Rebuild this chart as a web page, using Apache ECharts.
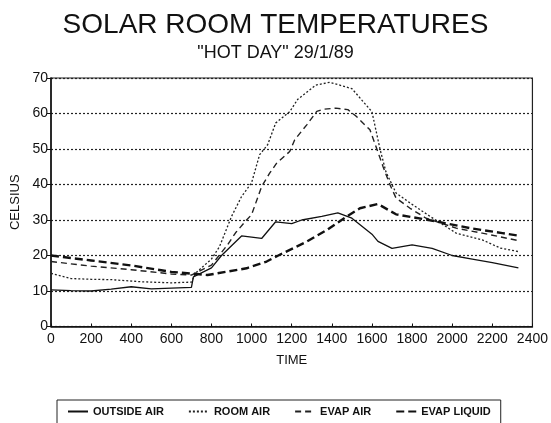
<!DOCTYPE html>
<html><head><meta charset="utf-8">
<script src="https://cdn.jsdelivr.net/npm/echarts@6/dist/echarts.min.js"></script>
<style>html,body{margin:0;padding:0;background:#fff}#c{width:551px;height:423px}</style>
</head><body><div id="c"></div>
<script>
const titleText = 'SOLAR ROOM TEMPERATURES';
const subtitleText = '"HOT DAY" 29/1/89';
const xName = 'TIME';
const yName = 'CELSIUS';
const seriesNames = ['OUTSIDE AIR', 'ROOM AIR', 'EVAP AIR', 'EVAP LIQUID'];

const outsideAir = [[0,10.3],[100,10.1],[200,10],[300,10.5],[400,11.2],[500,10.6],[600,10.8],[700,11],[710,14],[800,16.5],[850,20],[950,25.5],[1050,24.8],[1120,29.5],[1200,29],[1250,30],[1350,31],[1430,32],[1500,30.5],[1600,26],[1630,24],[1700,22],[1800,23],[1900,22],[2000,20],[2100,19],[2200,18],[2330,16.5]];
const roomAir = [[0,15],[100,13.5],[200,13.3],[300,13.2],[450,12.6],[600,12.3],[700,12.5],[720,15],[800,19],[840,22.5],[900,31],[950,36.6],[1000,40.5],[1040,48.4],[1080,51.2],[1120,57.3],[1190,60.5],[1230,64],[1320,68],[1390,68.8],[1500,67],[1600,60.5],[1640,50],[1670,43.5],[1720,37.6],[1790,34.8],[1890,31],[2020,26.3],[2150,24.4],[2240,22.1],[2330,21.1]];
const evapAir = [[0,18.3],[200,17],[400,16],[600,14.8],[700,14.5],[800,17.3],[880,23],[920,26.4],[975,30],[1000,31.5],[1050,39.4],[1090,43.2],[1125,46],[1190,49.3],[1215,52.6],[1275,56.8],[1325,60.6],[1360,61.2],[1420,61.5],[1480,61.1],[1520,59.3],[1590,55.4],[1620,50.7],[1655,45.1],[1690,39.9],[1720,36.2],[1790,33.3],[1870,30.5],[2020,27.7],[2150,26.3],[2330,24.2]];
const evapLiquid = [[0,20],[200,18.6],[400,17.2],[600,15.4],[700,14.9],[780,14.5],[975,16.4],[1075,18.3],[1140,20.2],[1275,23.9],[1375,27.2],[1475,31],[1540,33.3],[1630,34.5],[1720,31.6],[1920,29.6],[2090,27.7],[2250,26.3],[2330,25.6]];

const font = 'Liberation Sans, Arial, sans-serif';
const chart = echarts.init(document.getElementById('c'), null, {renderer: 'canvas'});
chart.setOption({
  animation: false,
  backgroundColor: '#fff',
  title: [
    {text: titleText, left: 'center', top: 6, textStyle: {fontFamily: font, fontSize: 28, fontWeight: 'normal', color: '#111'}},
    {text: subtitleText, left: 'center', top: 39, textStyle: {fontFamily: font, fontSize: 18, fontWeight: 'normal', color: '#111'}}
  ],
  grid: {left: 51, right: 18, top: 78, bottom: 96.5, show: true, borderColor: '#222', borderWidth: 1.2},
  xAxis: {
    type: 'value', min: 0, max: 2400, interval: 200,
    name: xName, nameLocation: 'middle', nameGap: 27,
    nameTextStyle: {fontFamily: font, fontSize: 13, color: '#111'},
    axisLine: {lineStyle: {color: '#111', width: 1.5}},
    axisTick: {show: true, inside: true, length: 3, lineStyle: {color: '#111'}},
    axisLabel: {fontFamily: font, fontSize: 14, color: '#111', margin: 6, formatter: v => String(v)},
    splitLine: {show: false}
  },
  yAxis: {
    type: 'value', min: 0, max: 70, interval: 10,
    name: yName, nameLocation: 'middle', nameGap: 26, nameRotate: 90,
    nameTextStyle: {fontFamily: font, fontSize: 13, color: '#111'},
    axisLine: {show: true, lineStyle: {color: '#111', width: 1.5}},
    axisTick: {show: true, length: 4, lineStyle: {color: '#111'}},
    axisLabel: {fontFamily: font, fontSize: 14, color: '#111', margin: 3},
    splitLine: {show: true, lineStyle: {color: '#222', type: [2, 2], width: 1.2}}
  },
  legend: {
    top: 400, left: 57, itemWidth: 20, itemHeight: 10, itemGap: 24,
    borderColor: '#222', borderWidth: 1, padding: [6, 10, 8, 10],
    itemStyle: {color: 'transparent', borderColor: 'transparent', borderWidth: 0},
    textStyle: {fontFamily: font, fontSize: 11, fontWeight: 'bold', color: '#111'},
    data: seriesNames
  },
  series: [
    {name: seriesNames[0], type: 'line', data: outsideAir, symbol: 'none', lineStyle: {color: '#111', width: 1.3, type: 'solid'}, itemStyle: {color: '#111'}},
    {name: seriesNames[1], type: 'line', data: roomAir, symbol: 'none', lineStyle: {color: '#222', width: 1.3, type: [2, 2]}, itemStyle: {color: '#222'}},
    {name: seriesNames[2], type: 'line', data: evapAir, symbol: 'none', lineStyle: {color: '#222', width: 1.4, type: [6, 4]}, itemStyle: {color: '#222'}},
    {name: seriesNames[3], type: 'line', data: evapLiquid, symbol: 'none', lineStyle: {color: '#111', width: 2.4, type: [8, 4]}, itemStyle: {color: '#111'}}
  ]
});
</script></body></html>
